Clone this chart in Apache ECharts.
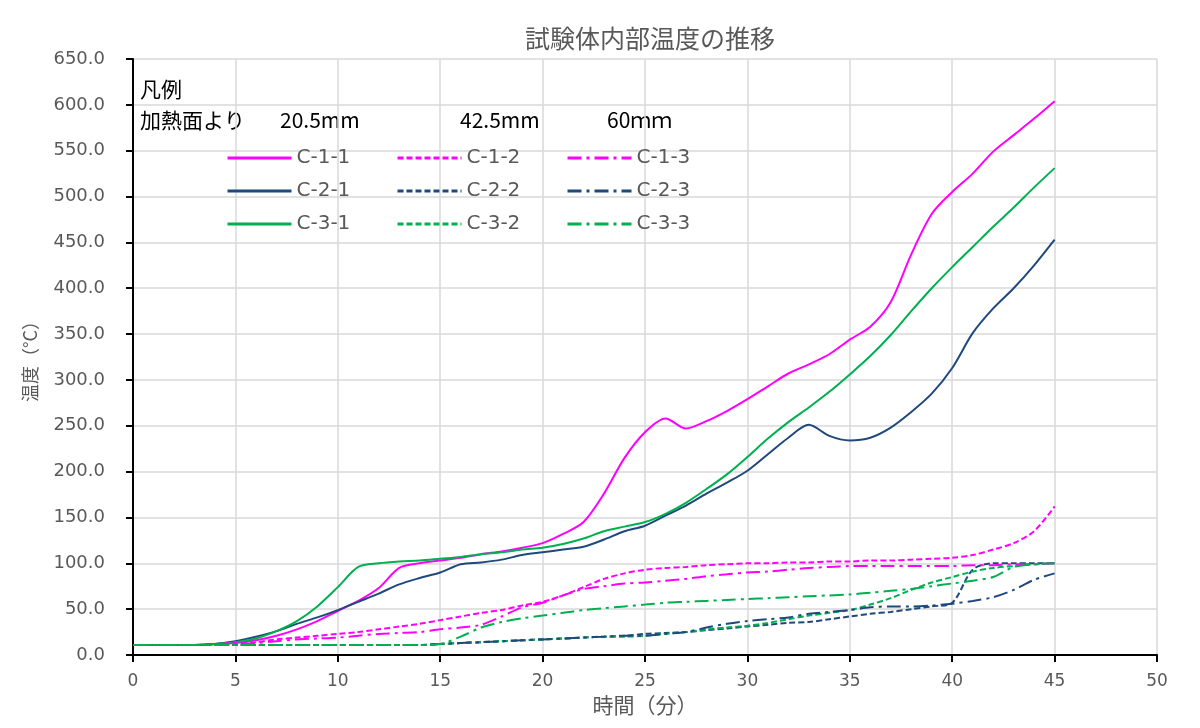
<!DOCTYPE html>
<html>
<head>
<meta charset="utf-8">
<title>試験体内部温度の推移</title>
<script src="https://cdn.jsdelivr.net/npm/echarts@6/dist/echarts.min.js"></script>
<style>
  html, body { margin: 0; padding: 0; background: #fff; }
  #temp-map { width: 1200px; height: 728px; }
</style>
</head>
<body>
<div id="temp-map"></div>
<script>
// 時間（分）
let minutes = [];
for (let i = 0; i <= 45; i++) minutes.push(i);

// 20.5mm
let c11 = [11,11,11,11,12, 13,16,21,28,37, 48,59,73,95,100, 103,106,110,113,117, 122,132,145,176,215, 243,258,247,255,266, 279,293,307,317,328, 344,358,385,437,481, 505,525,549,567,585, 604];
let c21 = [11,11,11,11,12, 15,20,26,34,41, 49,58,67,77,84, 90,99,101,104,109, 112,115,118,126,135, 141,152,163,176,188, 201,219,237,251,239, 234,237,248,265,285, 313,351,378,400,425, 453];
let c31 = [11,11,11,11,12, 14,18,26,37,53, 74,96,100,102,103, 105,107,110,112,115, 117,121,127,135,140, 145,154,166,181,197, 216,236,254,270,287, 306,326,349,375,400, 423,445,467,488,510, 531];
// 42.5mm
let c12 = [11,11,11,11,12, 13,14,17,19,21, 23,25,28,31,34, 38,42,46,49,54, 58,65,74,83,89, 93,95,96,98,99, 100,100,101,101,102, 102,103,103,104,105, 106,109,115,122,135, 162];
let c22 = [11,11,11,11,11, 11,11,11,11,11, 11,11,11,11,11, 12,13,14,15,16, 17,18,19,20,21, 23,24,25,27,29, 31,33,35,36,39, 42,45,47,50,53, 57,93,100,100,100, 100];
let c32 = [11,11,11,11,11, 11,11,11,11,11, 11,11,11,11,11, 12,13,14,15,16, 17,18,19,20,20, 21,23,25,28,30, 32,35,39,43,46, 49,55,62,71,79, 85,91,95,97,99, 100];
// 60mm
let c13 = [11,11,11,11,11, 12,13,15,17,18, 19,21,23,24,25, 28,30,33,42,52, 57,65,72,75,78, 79,81,83,86,88, 90,91,93,95,96, 97,97,97,97,97, 97,98,98,99,99, 100];
let c23 = [11,11,11,11,11, 11,11,11,11,11, 11,11,11,11,11, 12,13,14,15,16, 17,18,19,20,21, 21,23,25,30,34, 37,39,41,45,47, 49,52,53,53,54, 56,59,63,71,82, 89];
let c33 = [11,11,11,11,11, 11,11,11,11,11, 11,11,11,11,11, 12,20,30,36,40, 43,46,49,51,53, 55,57,58,59,60, 61,62,63,64,65, 66,68,70,72,75, 78,81,85,96,99, 100];

let xTicks = [0, 50, 5];
let yTicks = [0, 650, 50];

let magenta = '#ff00ff';
let navy = '#1f497d';
let green = '#00b050';
let dashLine = [6, 3];
let dashDot = [14, 5, 3, 5];
let font = '"Noto Sans CJK JP", "Noto Sans", sans-serif';
let numFont = '"DejaVu Sans", sans-serif';

function pairs(vals) {
    return minutes.map(function (t, i) { return [t, vals[i]]; });
}

function line(name, vals, color, type) {
    return {
        name: name,
        type: 'line',
        symbol: 'none',
        smooth: 0.3,
        lineStyle: { color: color, width: 2, type: type },
        itemStyle: { color: color },
        data: pairs(vals)
    };
}

function legendCol(left, names) {
    return {
        orient: 'vertical',
        left: left,
        top: 147,
        padding: 0,
        itemWidth: 64,
        itemHeight: 22,
        itemGap: 11,
        selectedMode: false,
        itemStyle: { opacity: 0 },
        lineStyle: { width: 3 },
        textStyle: { color: '#595959', fontSize: 20, lineHeight: 22, fontFamily: numFont },
        data: names
    };
}

function headText(x, y, s) {
    return {
        type: 'text',
        left: x,
        top: y,
        style: { text: s, fill: '#000', fontSize: 21, fontFamily: font }
    };
}

let myChart = echarts.init(document.getElementById('temp-map'));

let option = {
    backgroundColor: '#fff',
    animation: false,
    title: {
        text: '試験体内部温度の推移',
        left: 645,
        textAlign: 'center',
        top: 21,
        textStyle: { color: '#595959', fontSize: 25, fontWeight: 'normal', fontFamily: font }
    },
    grid: { left: 133, right: 43, top: 59, bottom: 73, outerBoundsMode: 'none' },
    legend: [
        legendCol(226, ['C-1-1', 'C-2-1', 'C-3-1']),
        legendCol(396, ['C-1-2', 'C-2-2', 'C-3-2']),
        legendCol(566, ['C-1-3', 'C-2-3', 'C-3-3'])
    ],
    graphic: [
        headText(140, 79, '凡例'),
        headText(140, 110, '加熱面より'),
        headText(280, 110, '20.5mm'),
        headText(460, 110, '42.5mm'),
        headText(607, 110, '60ｍｍ')
    ],
    xAxis: {
        type: 'value',
        min: xTicks[0],
        max: xTicks[1],
        interval: xTicks[2],
        name: '時間（分）',
        nameLocation: 'middle',
        nameGap: 38,
        nameTextStyle: { color: '#595959', fontSize: 21, fontFamily: font },
        axisLine: { onZero: false, lineStyle: { color: '#000', width: 2 } },
        axisTick: { show: true, length: 7, lineStyle: { color: '#000', width: 2 } },
        axisLabel: { color: '#595959', fontSize: 17, margin: 18, fontFamily: numFont },
        splitLine: { show: true, lineStyle: { color: '#d9d9d9', width: 1.5 } }
    },
    yAxis: {
        type: 'value',
        min: yTicks[0],
        max: yTicks[1],
        interval: yTicks[2],
        name: '温度（°C）',
        nameLocation: 'middle',
        nameGap: 94,
        nameTextStyle: { color: '#595959', fontSize: 18, fontFamily: font },
        axisLine: { show: true, lineStyle: { color: '#000', width: 2 } },
        axisTick: { show: true, length: 7, lineStyle: { color: '#000', width: 2 } },
        axisLabel: {
            color: '#595959', fontSize: 18, margin: 28, fontFamily: numFont,
            formatter: function (v) { return v.toFixed(1); }
        },
        splitLine: { show: true, lineStyle: { color: '#d9d9d9', width: 1.5 } }
    },
    series: [
        line('C-1-1', c11, magenta, 'solid'),
        line('C-2-1', c21, navy, 'solid'),
        line('C-3-1', c31, green, 'solid'),
        line('C-1-2', c12, magenta, dashLine),
        line('C-2-2', c22, navy, dashLine),
        line('C-3-2', c32, green, dashLine),
        line('C-1-3', c13, magenta, dashDot),
        line('C-2-3', c23, navy, dashDot),
        line('C-3-3', c33, green, dashDot)
    ]
};

myChart.setOption(option);
window.addEventListener('resize', function () {
    myChart.resize();
});
</script>
</body>
</html>
